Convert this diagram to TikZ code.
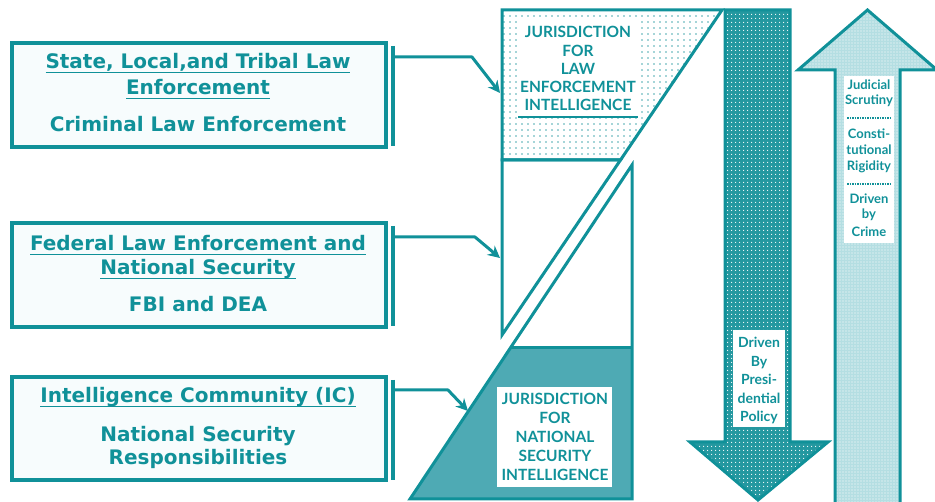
\documentclass[tikz,border=0pt]{standalone}
\usepackage{fontspec}
\setmainfont{DejaVu Sans}
\newfontfamily\jfont{Lato}
\usetikzlibrary{arrows.meta,patterns.meta}
\definecolor{tl}{RGB}{16,145,153}
\definecolor{tlfill}{RGB}{78,170,180}
\definecolor{tlarrow}{RGB}{36,152,160}
\definecolor{tllight}{RGB}{180,222,226}
\definecolor{boxbg}{RGB}{247,252,253}
\newcommand\myul[1]{\setbox0\hbox{#1}\rlap{\rule[-4.5pt]{\wd0}{1.8pt}}\box0}
\tikzset{
  lbox/.style={draw=tl,line width=3.5pt,fill=boxbg,minimum width=374pt,minimum height=104pt,inner sep=0pt},
  bar/.style={draw=tl,line width=3.5pt},
  conn/.style={draw=tl,line width=3pt,line join=round,-{Stealth[length=12pt,width=12pt]}},
  head/.style={text=tl,font=\bfseries\fontsize{20}{25}\selectfont,anchor=base,inner sep=0pt},
  col/.style={draw=tl,line width=3pt,line join=miter},
  jur/.style={text=tl,font=\jfont\bfseries\fontsize{15.5}{18.5}\selectfont,anchor=base,inner sep=0pt},
  arr/.style={text=tl,font=\jfont\bfseries\fontsize{14}{17}\selectfont,anchor=base,inner sep=0pt},
  arrs/.style={text=tl,font=\jfont\bfseries\fontsize{13}{16}\selectfont,anchor=base,inner sep=0pt},
  whitebox/.style={fill=white,inner sep=0pt},
  sep/.style={draw=tl,line width=1.5pt,dash pattern=on 1.5pt off 1pt},
}
\begin{document}
\begin{tikzpicture}[x=1pt,y=-1pt]
\useasboundingbox (0,0) rectangle (935,502);
% ---------------- left boxes
\node[lbox] (b1) at (199,95) {};
\node[lbox] (b2) at (199,275) {};
\node[lbox,minimum height=103pt] (b3) at (199,428.5) {};
\coordinate (bar1a) at (393,46);  \coordinate (bar1b) at (393,146);
\coordinate (bar2a) at (393,226); \coordinate (bar2b) at (393,326);
\coordinate (bar3a) at (393,380); \coordinate (bar3b) at (393,480);
\draw[bar] (bar1a) -- (bar1b);
\draw[bar] (bar2a) -- (bar2b);
\draw[bar] (bar3a) -- (bar3b);
\node[head] (b1h1) at (198,69) {\myul{State, Local,and Tribal Law}};
\node[head] (b1h2) at (198,95) {\myul{Enforcement}};
\node[head] (b1s) at (198,132) {Criminal Law Enforcement};
\node[head] (b2h1) at (198,251) {\myul{Federal Law Enforcement and}};
\node[head] (b2h2) at (198,275) {\myul{National Security}};
\node[head] (b2s) at (198,312) {FBI and DEA};
\node[head] (b3h1) at (198,403) {\myul{Intelligence Community (IC)}};
\node[head] (b3s1) at (198,442) {National Security};
\node[head] (b3s2) at (198,465) {Responsibilities};
% ---------------- central column
\coordinate (A) at (502,10);
\coordinate (B) at (722,10);
\coordinate (C) at (620.5,160);
\coordinate (D) at (502,160);
\coordinate (E) at (502,335);
\coordinate (P) at (632,165);
\coordinate (Q) at (632,499);
\coordinate (R) at (410,499);
\coordinate (S) at (510.4,348);
\coordinate (T) at (632,348);
\path[fill=white,postaction={pattern={Dots[distance=6pt,radius=0.8pt]},pattern color=tl!75}] (A) -- (B) -- (C) -- (D) -- cycle;
\fill[white] (518,21) rectangle (638,116);
\fill[tlfill] (S) -- (T) -- (Q) -- (R) -- cycle;
\node[whitebox,minimum width=115pt,minimum height=100pt] (nsbox) at (554.5,437) {};
\draw[col] (A) -- (B) -- (C) -- (D) -- cycle;
\draw[col] (D) -- (C) -- (E) -- cycle;
\draw[col] (P) -- (Q) -- (R) -- cycle;
\draw[col] (S) -- (T);
\draw[tl,line width=1.5pt] (518,117) -- (638,117);
\node[jur] (j1) at (578,38) {JURISDICTION};
\node[jur] (j2) at (578,57) {FOR};
\node[jur] (j3) at (578,75) {LAW};
\node[jur] (j4) at (578,93) {ENFORCEMENT};
\node[jur] (j5) at (578,111) {INTELLIGENCE};
\node[jur] (n1) at (555,405) {JURISDICTION};
\node[jur] (n2) at (555,423.5) {FOR};
\node[jur] (n3) at (555,443) {NATIONAL};
\node[jur] (n4) at (555,462) {SECURITY};
\node[jur] (n5) at (555,480.5) {INTELLIGENCE};
% ---------------- connectors
\coordinate (s1) at (393,57);  \coordinate (k1) at (472,57);  \coordinate (t1) at (500,93);
\coordinate (s2) at (393,237); \coordinate (k2) at (475,237); \coordinate (t2) at (500,258);
\coordinate (s3) at (393,390); \coordinate (k3) at (448,390); \coordinate (t3) at (468,411);
\draw[conn] (s1) -- (k1) -- (t1);
\draw[conn] (s2) -- (k2) -- (t2);
\draw[conn] (s3) -- (k3) -- (t3);
% ---------------- down arrow
\path[fill=tlarrow,postaction={pattern={Dots[distance=4pt,radius=0.7pt]},pattern color=white}]
  (725,10) -- (790,10) -- (790,442) -- (828,442) -- (758,500) -- (690,442) -- (725,442) -- cycle;
\draw[col] (725,10) -- (790,10) -- (790,442) -- (828,442) -- (758,500) -- (690,442) -- (725,442) -- cycle;
\node[whitebox,minimum width=52pt,minimum height=97pt] (dbox) at (759,378.5) {};
\node[arr] (d1) at (759,348) {Driven};
\node[arr] (d2) at (759,366.5) {By};
\node[arr] (d3) at (759,385) {Presi-};
\node[arr] (d4) at (759,404) {dential};
\node[arr] (d5) at (759,422) {Policy};
% ---------------- up arrow
\path[fill=tllight,postaction={pattern={Dots[distance=3pt,radius=0.6pt]},pattern color=white}]
  (835,505) -- (835,70) -- (798,70) -- (867.5,10) -- (937,70) -- (900,70) -- (900,505) -- cycle;
\draw[col] (835,505) -- (835,70) -- (798,70) -- (867.5,10) -- (937,70) -- (900,70) -- (900,505);
\node[whitebox,minimum width=50pt,minimum height=167pt] (ubox) at (869,159.5) {};
\node[arrs] (u1) at (869,89.5) {Judicial};
\node[arrs] (u2) at (869,105) {Scrutiny};
\coordinate (sepa1) at (847,118); \coordinate (sepa2) at (892,118);
\draw[sep] (sepa1) -- (sepa2);
\node[arrs] (u3) at (869,138.5) {Consti-};
\node[arrs] (u4) at (869,155) {tutional};
\node[arrs] (u5) at (869,170.5) {Rigidity};
\coordinate (sepb1) at (847,184); \coordinate (sepb2) at (892,184);
\draw[sep] (sepb1) -- (sepb2);
\node[arrs] (u6) at (869,204) {Driven};
\node[arrs] (u7) at (869,219) {by};
\node[arrs] (u8) at (869,236.5) {Crime};
\end{tikzpicture}
\end{document}
